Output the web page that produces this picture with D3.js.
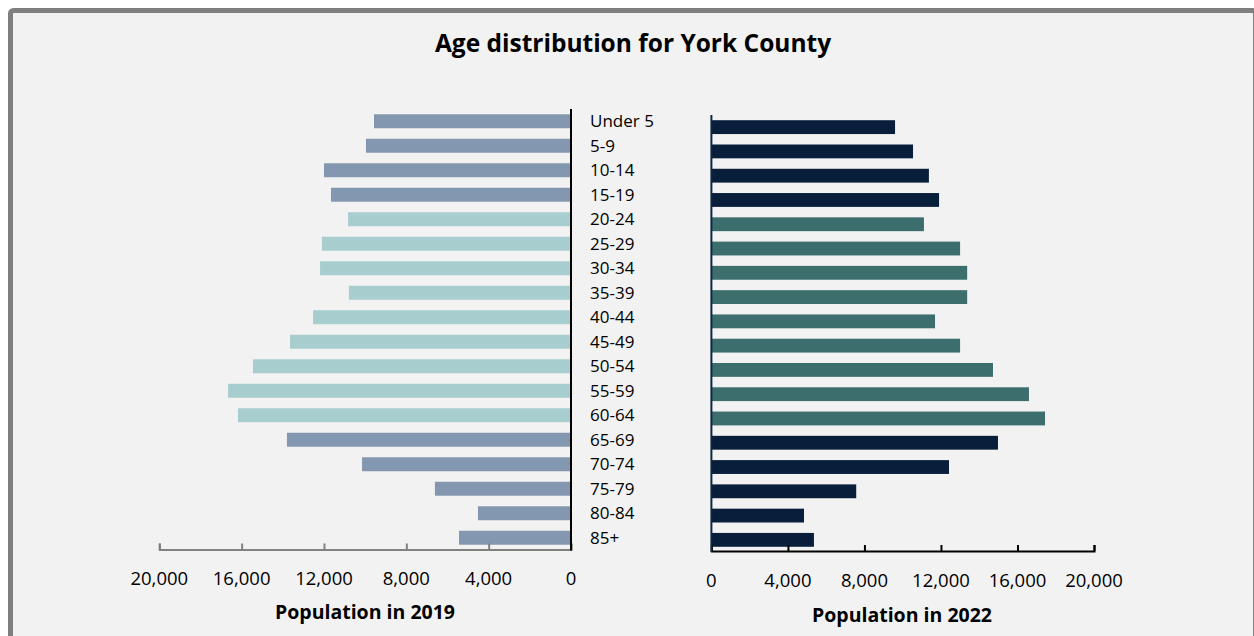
<!DOCTYPE html>
<html>
<head>
<meta charset="utf-8">
<script src="https://cdn.jsdelivr.net/npm/d3@7"></script>
<style>
  html, body { margin: 0; padding: 0; background: #ffffff; }
  svg { display: block; }
  text { font-family: "Open Sans", "Noto Sans", sans-serif; fill: #000; }
</style>
</head>
<body>
<svg id="chart" width="1254" height="636"></svg>
<script>
// ---- data ----
const categories = ["Under 5","5-9","10-14","15-19","20-24","25-29","30-34","35-39","40-44",
                    "45-49","50-54","55-59","60-64","65-69","70-74","75-79","80-84","85+"];
const ageGroup = ["dependent","dependent","dependent","dependent","working","working","working","working","working",
                  "working","working","working","working","dependent","dependent","dependent","dependent","dependent"];
const pop2019 = [9570, 9960, 12000, 11660, 10830, 12100, 12190, 10790, 12530,
                 13650, 15450, 16660, 16180, 13800, 10150, 6610, 4520, 5440];
const pop2022 = [9600, 10540, 11370, 11900, 11110, 13000, 13370, 13370, 11690,
                 13000, 14720, 16600, 17440, 14980, 12420, 7570, 4840, 5360];
const tickValues = [0, 4000, 8000, 12000, 16000, 20000];
const titleText = "Age distribution for York County";
const leftTitle = "Population in 2019";
const rightTitle = "Population in 2022";

// ---- styles ----
const colors2019 = { dependent: "#8497b0", working: "#a7cdce" };
const colors2022 = { dependent: "#081e3a", working: "#3c6e6e" };

const svg = d3.select("#chart");

// frame
svg.append("rect")
  .attr("x", 10.5).attr("y", 10.5)
  .attr("width", 1245).attr("height", 640)
  .attr("rx", 3)
  .attr("fill", "#f2f2f2")
  .attr("stroke", "#7f7f7f")
  .attr("stroke-width", 5);

// title
svg.append("text")
  .attr("x", 633).attr("y", 52)
  .attr("text-anchor", "middle")
  .style("font-size", "24.5px").style("font-weight", "bold")
  .text(titleText);

const fmt = d3.format(",");

// ---- left (2019) ----
const xL = d3.scaleLinear().domain([0, 20000]).range([571, 159.3]);
const yL = d3.scaleBand().domain(categories).range([109, 550]).paddingInner(0.43).paddingOuter(0.215);

svg.append("g").selectAll("rect")
  .data(categories)
  .join("rect")
  .attr("x", (d, i) => xL(pop2019[i]))
  .attr("y", d => yL(d))
  .attr("width", (d, i) => xL(0) - xL(pop2019[i]))
  .attr("height", yL.bandwidth())
  .attr("fill", (d, i) => colors2019[ageGroup[i]]);

const axL = svg.append("g")
  .attr("transform", "translate(0,549.5)")
  .call(d3.axisTop(xL).tickValues(tickValues).tickSize(6).tickFormat(""));
axL.select(".domain").attr("stroke", "#808080").attr("stroke-width", 2);
axL.selectAll(".tick line").attr("stroke", "#808080").attr("stroke-width", 2);

// left tick labels
svg.append("g").selectAll("text")
  .data(tickValues)
  .join("text")
  .attr("x", d => xL(d))
  .attr("y", 585)
  .attr("text-anchor", "middle")
  .style("font-size", "18.5px")
  .text(d => fmt(d));

// left zero line
svg.append("line")
  .attr("x1", xL(0)).attr("x2", xL(0))
  .attr("y1", 109).attr("y2", 550.5)
  .attr("stroke", "#000").attr("stroke-width", 2);

svg.append("text")
  .attr("x", 365).attr("y", 619)
  .attr("text-anchor", "middle")
  .style("font-size", "19.5px").style("font-weight", "bold")
  .text(leftTitle);

// category labels
svg.append("g").selectAll("text")
  .data(categories)
  .join("text")
  .attr("x", 590)
  .attr("y", d => yL(d) + yL.bandwidth() / 2)
  .attr("dy", "0.35em")
  .style("font-size", "17px")
  .text(d => d);

// ---- right (2022) ----
const xR = d3.scaleLinear().domain([0, 20000]).range([711.4, 1094]);
const yR = d3.scaleBand().domain(categories).range([115, 552]).paddingInner(0.43).paddingOuter(0.215);

svg.append("g").selectAll("rect")
  .data(categories)
  .join("rect")
  .attr("x", xR(0))
  .attr("y", d => yR(d))
  .attr("width", (d, i) => xR(pop2022[i]) - xR(0))
  .attr("height", yR.bandwidth())
  .attr("fill", (d, i) => colors2022[ageGroup[i]]);

const axR = svg.append("g")
  .attr("transform", "translate(0,551)")
  .call(d3.axisTop(xR).tickValues(tickValues).tickSize(6).tickFormat(""));
axR.select(".domain").attr("stroke", "#000").attr("stroke-width", 2);
axR.selectAll(".tick line").attr("stroke", "#000").attr("stroke-width", 2);

svg.append("line")
  .attr("x1", xR(0)).attr("x2", xR(0))
  .attr("y1", 115).attr("y2", 552)
  .attr("stroke", "#0e2841").attr("stroke-width", 2);

svg.append("g").selectAll("text")
  .data(tickValues)
  .join("text")
  .attr("x", d => xR(d))
  .attr("y", 587)
  .attr("text-anchor", "middle")
  .style("font-size", "18.5px")
  .text(d => fmt(d));

svg.append("text")
  .attr("x", 902).attr("y", 622)
  .attr("text-anchor", "middle")
  .style("font-size", "19.5px").style("font-weight", "bold")
  .text(rightTitle);
</script>
</body>
</html>
